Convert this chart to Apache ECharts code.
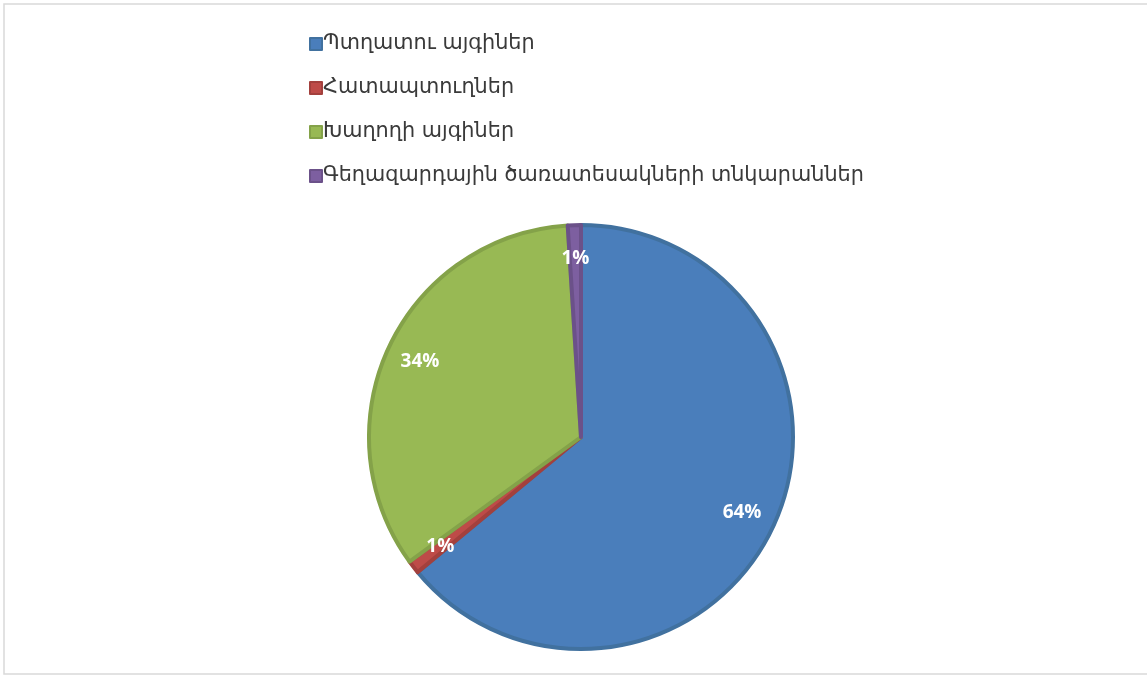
<!DOCTYPE html>
<html>
<head>
<meta charset="utf-8">
<script src="https://cdn.jsdelivr.net/npm/echarts@6/dist/echarts.min.js"></script>
<style>
  html, body { margin: 0; padding: 0; background: #fff; }
  #chart { width: 1147px; height: 675px; }
</style>
</head>
<body>
<div id="chart"></div>
<script>
const categories = [
  'Պտղատու այգիներ',
  'Հատապտուղներ',
  'Խաղողի այգիներ',
  'Գեղազարդային ծառատեսակների տնկարաններ'
];
const shares = [64, 1, 34, 1];
const colors = ['#4a7ebb', '#be4b48', '#98b954', '#7d5fa0'];
const edgeColors = ['#41719f', '#a3403d', '#84a249', '#6b5189'];

const chart = echarts.init(document.getElementById('chart'));

const center = [581, 437];
const radius = 212;

const option = {
  animation: false,
  graphic: [{
    type: 'rect',
    shape: { x: 4, y: 4, width: 1160, height: 670 },
    style: { fill: 'none', stroke: '#d9d9d9', lineWidth: 1.5 },
    silent: true
  }],
  legend: {
    orient: 'vertical',
    left: 304,
    top: 27,
    itemWidth: 12,
    itemHeight: 12,
    itemGap: 20,
    icon: 'rect',
    data: categories,
    textStyle: {
      fontFamily: 'DejaVu Sans',
      fontSize: 20.8,
      lineHeight: 24,
      color: '#3a3a3a',
      padding: [0, 0, 0, -4]
    }
  },
  series: [
    {
      type: 'pie',
      center: center,
      radius: radius,
      startAngle: 90,
      clockwise: true,
      data: categories.map((name, i) => ({
        name,
        value: shares[i],
        itemStyle: { color: colors[i], borderColor: edgeColors[i], borderWidth: 4 }
      })),
      label: { show: false },
      labelLine: { show: false },
      emphasis: { disabled: true }
    },
    {
      // transparent ring used only to place the percent labels near the rim
      type: 'pie',
      center: center,
      radius: [150, 200],
      startAngle: 90,
      clockwise: true,
      silent: true,
      data: categories.map((name, i) => ({
        name,
        value: shares[i],
        itemStyle: { color: 'transparent', borderWidth: 0 }
      })),
      label: {
        show: true,
        position: 'inside',
        formatter: '{c}%',
        color: '#fff',
        fontFamily: 'Open Sans',
        fontWeight: 'bold',
        fontSize: 19
      },
      labelLine: { show: false },
      emphasis: { disabled: true }
    }
  ]
};

chart.setOption(option);
</script>
</body>
</html>
